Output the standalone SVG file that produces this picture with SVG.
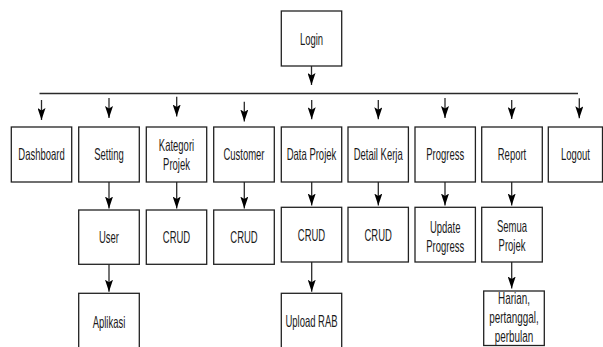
<svg xmlns="http://www.w3.org/2000/svg" width="603" height="347" viewBox="0 0 603 347">
<defs>
<marker id="arr" markerUnits="userSpaceOnUse" viewBox="0 0 12 8" markerWidth="12" markerHeight="8" refX="12" refY="4" orient="auto">
<path d="M0,0 L12,4 L0,8 L2.5,4 Z" fill="#000"/>
</marker>
</defs>
<style>
rect{fill:#fff;stroke:#222;stroke-width:1.3}
text{font-family:"Liberation Sans",Arial,sans-serif;font-size:16.5px;fill:#1a1a1a;text-anchor:middle}
.c line{stroke:#2a2a2a;stroke-width:1.3;marker-end:url(#arr)}
.c .bus{marker-end:none}
</style>
<rect x="0" y="0" width="603" height="347" style="stroke:none"/>
<g class="c" id="connectors">
<line x1="311.5" y1="66" x2="311.5" y2="85"/>
<line class="bus" x1="39.5" y1="93.5" x2="578" y2="93.5"/>
<line x1="41.5" y1="100" x2="41.5" y2="120"/>
<line x1="109" y1="98" x2="109" y2="118"/>
<line x1="176.7" y1="96.7" x2="176.7" y2="116.5"/>
<line x1="244.3" y1="101.7" x2="244.3" y2="121.5"/>
<line x1="311.7" y1="100" x2="311.7" y2="119.3"/>
<line x1="378.3" y1="100" x2="378.3" y2="119.3"/>
<line x1="445" y1="98" x2="445" y2="118"/>
<line x1="511.7" y1="100" x2="511.7" y2="119"/>
<line x1="579.3" y1="98.3" x2="579.3" y2="118.3"/>
<line x1="109" y1="182" x2="109" y2="208.5"/>
<line x1="176.7" y1="182" x2="176.7" y2="208.5"/>
<line x1="244.3" y1="182" x2="244.3" y2="208.5"/>
<line x1="311.7" y1="182" x2="311.7" y2="205.5"/>
<line x1="378.3" y1="182" x2="378.3" y2="205.5"/>
<line x1="445" y1="182" x2="445" y2="205.5"/>
<line x1="511.7" y1="182" x2="511.7" y2="205.5"/>
<line x1="109" y1="264.3" x2="109" y2="291.7"/>
<line x1="311.7" y1="262" x2="311.7" y2="291.7"/>
<line x1="511.7" y1="262" x2="511.7" y2="288.5"/>
</g>
<g id="login"><rect x="281.3" y="11" width="60.4" height="55"/><text transform="translate(311.5,44.6) scale(0.575,1)">Login</text></g>
<g id="dashboard"><rect x="11.3" y="127" width="60.4" height="55"/><text transform="translate(41.5,160.4) scale(0.575,1)">Dashboard</text></g>
<g id="setting"><rect x="78.7" y="127" width="60.6" height="55"/><text transform="translate(109,160.4) scale(0.575,1)">Setting</text></g>
<g id="kategori"><rect x="146.3" y="127" width="60.4" height="55"/><text transform="translate(176.5,150.9) scale(0.575,1)">Kategori</text><text transform="translate(176.5,170.2) scale(0.575,1)">Projek</text></g>
<g id="customer"><rect x="213.7" y="127" width="60.6" height="55"/><text transform="translate(244,160.4) scale(0.575,1)">Customer</text></g>
<g id="dataprojek"><rect x="281.3" y="127" width="60.4" height="55"/><text transform="translate(311.5,160.4) scale(0.575,1)">Data Projek</text></g>
<g id="detailkerja"><rect x="348" y="127" width="60.4" height="55"/><text transform="translate(378.2,160.4) scale(0.575,1)">Detail Kerja</text></g>
<g id="progress"><rect x="415" y="127" width="60.4" height="55"/><text transform="translate(445.2,160.4) scale(0.575,1)">Progress</text></g>
<g id="report"><rect x="481.7" y="127" width="60.6" height="55"/><text transform="translate(512,160.4) scale(0.575,1)">Report</text></g>
<g id="logout"><rect x="548.3" y="127" width="54.2" height="55"/><text transform="translate(575.5,160.4) scale(0.575,1)">Logout</text></g>
<g id="user"><rect x="78.7" y="210" width="60.6" height="54.3"/><text transform="translate(109,243.2) scale(0.575,1)">User</text></g>
<g id="crud-kategori"><rect x="146.3" y="210" width="60.4" height="54.3"/><text transform="translate(176.5,243.2) scale(0.575,1)">CRUD</text></g>
<g id="crud-customer"><rect x="213.7" y="210" width="60.6" height="54.3"/><text transform="translate(244,243.2) scale(0.575,1)">CRUD</text></g>
<g id="crud-dataprojek"><rect x="281.3" y="207.3" width="60.4" height="54.7"/><text transform="translate(311.5,240.9) scale(0.575,1)">CRUD</text></g>
<g id="crud-detailkerja"><rect x="348" y="207.3" width="60.4" height="54.7"/><text transform="translate(378.2,240.9) scale(0.575,1)">CRUD</text></g>
<g id="updateprogress"><rect x="415" y="207.3" width="60.4" height="54.7"/><text transform="translate(445.2,232.6) scale(0.575,1)">Update</text><text transform="translate(445.2,251.6) scale(0.575,1)">Progress</text></g>
<g id="semuaprojek"><rect x="481.7" y="207.3" width="60.6" height="54.7"/><text transform="translate(512,231.6) scale(0.575,1)">Semua</text><text transform="translate(512,250.9) scale(0.575,1)">Projek</text></g>
<g id="aplikasi"><rect x="78.7" y="293.3" width="60.6" height="56"/><text transform="translate(109,327.6) scale(0.575,1)">Aplikasi</text></g>
<g id="uploadrab"><rect x="281.3" y="293.3" width="60.4" height="56"/><text transform="translate(311.5,326.6) scale(0.575,1)">Upload RAB</text></g>
<g id="harian"><rect x="483.7" y="291" width="60.6" height="54.5"/><text transform="translate(514,303.9) scale(0.6,1)">Harian,</text><text transform="translate(514,322.6) scale(0.6,1)">pertanggal,</text><text transform="translate(514,341.6) scale(0.6,1)">perbulan</text></g>
</svg>
